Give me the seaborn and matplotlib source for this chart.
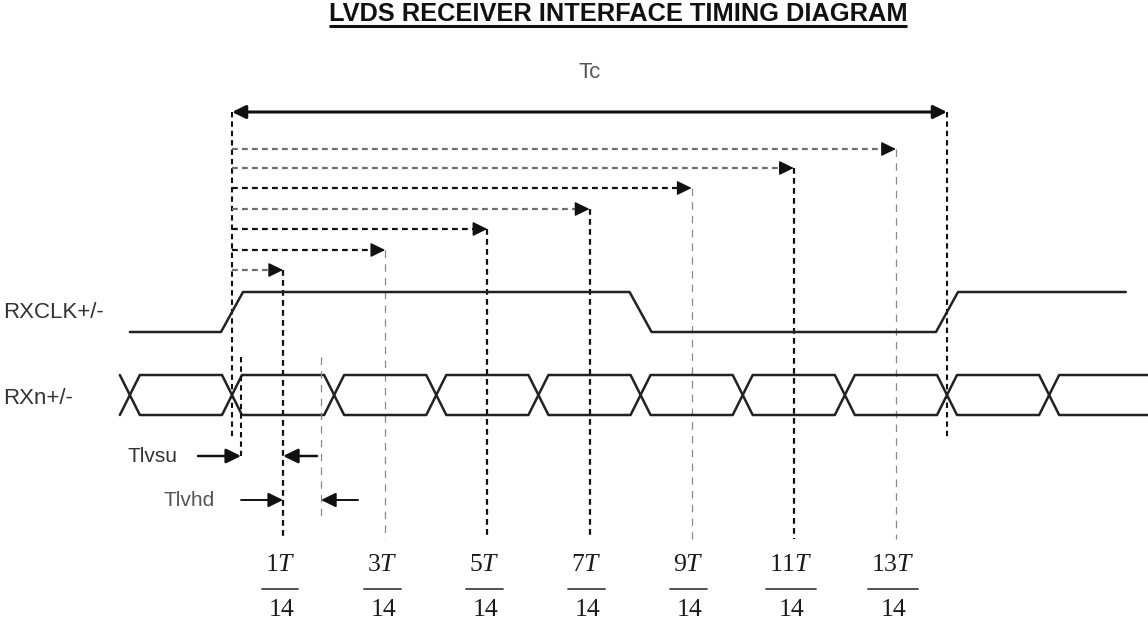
"""
LVDS receiver interface timing diagram, redrawn with matplotlib + seaborn.
Horizontal axis is time in units of the clock period Tc (rising edge at 0).
Vertical axis is in figure rows (top = 0) so the lanes stack like the drawing.
"""
import matplotlib
matplotlib.use("Agg")
import matplotlib.pyplot as plt
import seaborn as sns

# ── Data (time in units of Tc) ────────────────────────────────────────────────
strobe_num = [1, 3, 5, 7, 9, 11, 13]                  # strobe points n*T/14
strobe_den = 14
bit_cross = [-1, 0, 1, 2, 3, 4, 5, 6, 7, 8]           # data crossings k*T/7
bits_per_clk = 7
clk_rise = [0.0, 1.0]
clk_fall = [4 / 7]
clk_start, clk_end = -1 / 7, 1.25
data_end = 1.35
t_setup_mark = 0.0126                                 # start of Tlvsu window
t_hold_mark = 0.1245                                  # end of Tlvhd window

# ── Layout / style ────────────────────────────────────────────────────────────
W_PX, H_PX = 1148, 622
T0_PX, TC_PX = 232, 715                               # where t=0 sits, px per Tc
px = lambda p: (p - T0_PX) / TC_PX                    # pixel column -> time
dpx = lambda d: d / TC_PX                             # pixel length -> time

Y_TC = 112
strobe_rows = [270, 250, 229, 209, 188, 168, 149]     # 1T .. 13T arrow rows
row_dark = [False, True, True, False, True, False, False]
vert_dark = [True, False, True, True, False, True, False]
Y_STROBE_END = 539
Y_TC_LINE_END = 438
CLK_HI, CLK_LO = 292, 332
DAT_HI, DAT_LO = 375, 415
CLK_W, DAT_W = dpx(11), dpx(10)
Y_SU, Y_HD = 456, 500
Y_NUM, Y_BAR, Y_DEN = 564, 589, 610

DARK, GREY, WAVE = "#111111", "#8a8a8a", "#222222"
DASH_DARK = (0, (2.6, 1.9))
DASH_LIGHT = (0, (6, 5))

sns.set_theme(style="white")
plt.rcParams["font.family"] = ["Liberation Sans", "DejaVu Sans"]
plt.rcParams["mathtext.fontset"] = "custom"
plt.rcParams["mathtext.rm"] = "Liberation Serif"
plt.rcParams["mathtext.it"] = "Liberation Serif:italic"

fig = plt.figure(figsize=(W_PX / 100, H_PX / 100), dpi=100)
ax = fig.add_axes([0, 0, 1, 1])
ax.set_xlim(px(0), px(W_PX))
ax.set_ylim(H_PX, 0)
ax.axis("off")


def arrow(x0, x1, y, color=DARK, lw=1.6, style="-|>", scale=20):
    ax.annotate("", xy=(x1, y), xytext=(x0, y),
                arrowprops=dict(arrowstyle=f"{style},head_length=0.45,head_width=0.22",
                                color=color, lw=lw, shrinkA=0, shrinkB=0,
                                mutation_scale=scale))


# ── Title ─────────────────────────────────────────────────────────────────────
title = ax.text(px(618), 14, "LVDS RECEIVER INTERFACE TIMING DIAGRAM",
                ha="center", va="center", fontsize=18.3, fontweight="bold",
                color="#111111")

# ── Tc period arrow and its reference lines ──────────────────────────────────
arrow(clk_rise[0], clk_rise[1], Y_TC, lw=2.2, style="<|-|>", scale=18)
ax.text(sum(clk_rise) / 2, 73, "Tc", ha="center", va="center",
        fontsize=16, color="#555555")
for t in clk_rise:
    ax.plot([t, t], [Y_TC, Y_TC_LINE_END], color=DARK, lw=1.5, ls=DASH_DARK)

# ── Strobe arrows and drop lines ─────────────────────────────────────────────
frac_nums = []
for n, y, hd, vd in zip(strobe_num, strobe_rows, row_dark, vert_dark):
    t = n / strobe_den
    hc = DARK if hd else "#6e6e6e"
    ax.plot([0, t - dpx(10)], [y, y], color=hc, lw=1.6, ls=DASH_DARK)
    arrow(t - dpx(12), t, y, color=DARK, lw=1.0, scale=20)
    if vd:
        ax.plot([t, t], [y, Y_STROBE_END], color=DARK, lw=1.6, ls=DASH_DARK)
    else:
        ax.plot([t, t], [y, Y_STROBE_END], color=GREY, lw=0.9, ls=DASH_LIGHT)

    # fraction label n T / 14
    num = ax.text(t - dpx(3), Y_NUM, f"${n}T$", ha="center", va="center",
                  fontsize=18.5, color="#1a1a1a")
    ax.text(t - dpx(2), Y_DEN, f"{strobe_den}", ha="center", va="center",
            fontsize=18.5, family="Liberation Serif", color="#1a1a1a")
    frac_nums.append((num, t))

# ── RXCLK waveform ───────────────────────────────────────────────────────────
edges = sorted([(t, CLK_HI) for t in clk_rise] + [(t, CLK_LO) for t in clk_fall])
cx, cy, lvl = [clk_start], [CLK_LO], CLK_LO
for t, new in edges:
    cx += [t - CLK_W, t + CLK_W]
    cy += [lvl, new]
    lvl = new
cx.append(clk_end)
cy.append(lvl)
sns.lineplot(x=cx, y=cy, sort=False, estimator=None, color=WAVE, lw=1.8, ax=ax)

# ── RXn data eyes ────────────────────────────────────────────────────────────
for start in (DAT_HI, DAT_LO):
    other = DAT_LO if start == DAT_HI else DAT_HI
    dx, dy, lvl = [], [], start
    for k in bit_cross:
        c = k / bits_per_clk
        nxt = other if lvl == start else start
        dx += [c - DAT_W, c + DAT_W]
        dy += [lvl, nxt]
        lvl = nxt
    dx.append(data_end)
    dy.append(lvl)
    sns.lineplot(x=dx, y=dy, sort=False, estimator=None, color=WAVE, lw=1.8, ax=ax)

ax.text(px(3), 313, "RXCLK+/-", ha="left", va="center", fontsize=16, color="#333333")
ax.text(px(3), 398, "RXn+/-", ha="left", va="center", fontsize=16, color="#333333")

# ── Setup / hold windows ─────────────────────────────────────────────────────
t_strobe1 = strobe_num[0] / strobe_den
ax.plot([t_setup_mark] * 2, [357, Y_SU], color=DARK, lw=1.5, ls=DASH_DARK)
ax.plot([t_hold_mark] * 2, [357, 520], color=GREY, lw=0.9, ls=DASH_LIGHT)

ax.text(px(128), Y_SU, "Tlvsu", ha="left", va="center", fontsize=15, color="#333333")
arrow(t_setup_mark - dpx(43), t_setup_mark, Y_SU, lw=1.8)
arrow(t_strobe1 + dpx(34), t_strobe1, Y_SU, lw=1.8)

ax.text(px(163), Y_HD, "Tlvhd", ha="left", va="center", fontsize=15, color="#555555")
arrow(t_strobe1 - dpx(42), t_strobe1, Y_HD, lw=1.4)
arrow(t_hold_mark + dpx(37), t_hold_mark, Y_HD, lw=1.4)

# ── Text-dependent pieces: title underline and fraction bars ─────────────────
fig.canvas.draw()
inv = ax.transData.inverted()
bb = title.get_window_extent()
(x0, _), (x1, _) = inv.transform([(bb.x0, bb.y0), (bb.x1, bb.y1)])
ax.plot([x0, x1], [26, 26], color="#111111", lw=2.2, solid_capstyle="butt")
for num, t in frac_nums:
    nb = num.get_window_extent()
    (a0, _), (a1, _) = inv.transform([(nb.x0 - 3, nb.y0), (nb.x1 + 3, nb.y1)])
    ax.plot([a0, a1], [Y_BAR, Y_BAR], color="#444444", lw=1.3)

fig.savefig("out.png", dpi=100)
